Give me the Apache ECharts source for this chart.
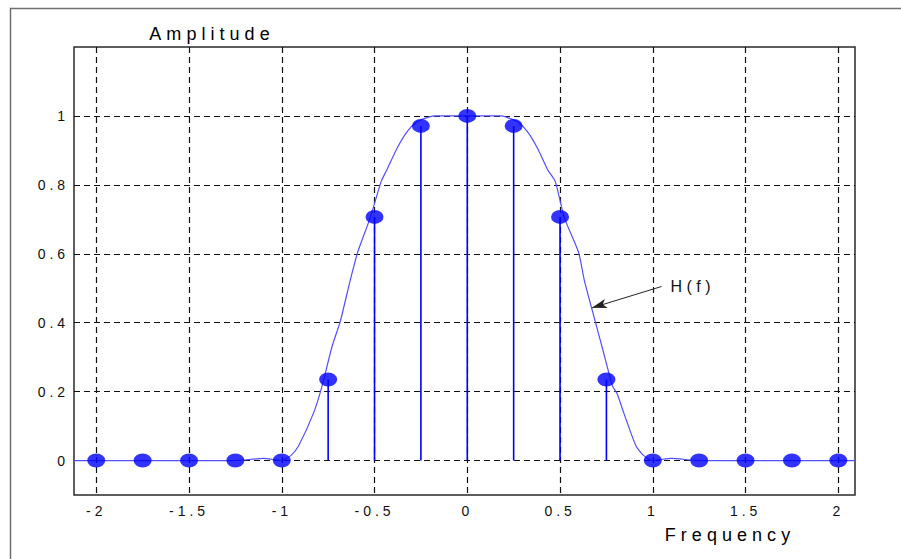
<!DOCTYPE html>
<html>
<head>
<meta charset="utf-8">
<script src="https://cdn.jsdelivr.net/npm/echarts@6/dist/echarts.min.js"></script>
<style>
  html, body { margin: 0; padding: 0; background: #fff; }
  #chart { width: 901px; height: 559px; }
  #chart svg text { letter-spacing: 0.28em; }
</style>
</head>
<body>
<div id="chart"></div>
<script>
// Sampled spectrum points (frequency, amplitude)
const stemFreq = [-2, -1.75, -1.5, -1.25, -1, -0.75, -0.5, -0.25, 0, 0.25, 0.5, 0.75, 1, 1.25, 1.5, 1.75, 2];
const stemAmp  = [0, 0, 0, 0, 0, 0.235, 0.707, 0.971, 1, 0.971, 0.707, 0.235, 0, 0, 0, 0, 0];

// Continuous H(f) curve
const curveFreq = [-2.12, -1.25, -1.1, -1.0, -0.95, -0.909, -0.828, -0.783, -0.729, -0.685, -0.631, -0.591, -0.523, -0.464, -0.433, -0.38, -0.325, -0.271, -0.217, -0.18, 0,
                   0.187, 0.217, 0.271, 0.325, 0.38, 0.433, 0.474, 0.523, 0.6, 0.631, 0.69, 0.726, 0.783, 0.807, 0.843, 0.909, 0.95, 1.0, 1.1, 1.25, 2.09];
const curveAmp  = [0, 0, 0.006, 0, 0.015, 0.043, 0.139, 0.216, 0.331, 0.403, 0.523, 0.604, 0.705, 0.81, 0.844, 0.905, 0.954, 0.983, 0.995, 1.0, 1.0,
                   1.0, 0.995, 0.983, 0.954, 0.905, 0.844, 0.81, 0.705, 0.604, 0.523, 0.403, 0.331, 0.216, 0.195, 0.139, 0.043, 0.015, 0, 0.006, 0, 0];

const xTicks = [-2, -1.5, -1, -0.5, 0, 0.5, 1, 1.5, 2];
const yTicks = [0, 0.2, 0.4, 0.6, 0.8, 1];

const xTitle = 'Frequency';
const yTitle = 'Amplitude';
const curveLabel = 'H(f)';
const arrowFrom = [1.047, 0.505];
const arrowTo = [0.672, 0.443];
const labelAt = [1.215, 0.505];

const FONT = '"Liberation Sans", Arial, sans-serif';
const chart = echarts.init(document.getElementById('chart'), null, { renderer: 'svg' });

const ellipse = 'path://M0 50A50 50 0 1 0 100 50A50 50 0 1 0 0 50Z';

chart.setOption({
  animation: false,
  backgroundColor: '#fff',
  grid: { left: 74, top: 47, right: 46, bottom: 64, show: true, borderColor: '#2a2a2a', borderWidth: 1.5, backgroundColor: 'transparent' },
  xAxis: {
    type: 'value', min: -2.12, max: 2.09,
    axisLine: { show: false, onZero: false },
    axisTick: { show: false, customValues: xTicks },
    axisLabel: { customValues: xTicks, color: '#111', fontSize: 14, fontFamily: FONT, margin: 9 },
    splitLine: { show: true, lineStyle: { color: '#111', type: [6, 4], width: 1.2 } }
  },
  yAxis: {
    type: 'value', min: -0.1, max: 1.2,
    axisLine: { show: false, onZero: false },
    axisTick: { show: false, customValues: yTicks },
    axisLabel: { customValues: yTicks, color: '#111', fontSize: 14, fontFamily: FONT, margin: 5 },
    splitLine: { show: true, lineStyle: { color: '#111', type: [6, 4], width: 1.2 } }
  },
  graphic: [
    { type: 'rect', left: 8, top: 6, shape: { width: 1000, height: 1000 }, style: { fill: 'none', stroke: '#707070', lineWidth: 1.5 }, z: -10 },
    { type: 'text', x: 212, y: 34, style: { text: yTitle, fontSize: 18, fontFamily: FONT, fill: '#000', align: 'center', verticalAlign: 'middle' } },
    { type: 'text', x: 730, y: 535, style: { text: xTitle, fontSize: 18, fontFamily: FONT, fill: '#000', align: 'center', verticalAlign: 'middle' } }
  ],
  series: [
    {
      type: 'line',
      data: curveFreq.map((f, i) => [f, curveAmp[i]]),
      showSymbol: false,
      smooth: 0.2,
      lineStyle: { color: '#5050ff', width: 1.2 },
      z: 3,
      markLine: {
        silent: true,
        symbol: ['none', 'arrow'],
        symbolSize: [7, 15],
        label: { show: false },
        lineStyle: { color: '#222', width: 1, type: 'solid' },
        data: [[{ coord: arrowFrom }, { coord: arrowTo }]]
      },
      markPoint: {
        symbol: 'circle', symbolSize: 0,
        label: { show: true, position: 'inside', formatter: curveLabel, fontSize: 16, fontFamily: FONT, color: '#111' },
        data: [{ coord: labelAt }]
      }
    },
    {
      type: 'custom',
      data: stemFreq.map((f, i) => [f, stemAmp[i]]),
      renderItem: function (params, api) {
        const p0 = api.coord([api.value(0), 0]);
        const p1 = api.coord([api.value(0), api.value(1)]);
        return { type: 'line', shape: { x1: p0[0], y1: p0[1], x2: p1[0], y2: p1[1] }, style: { stroke: '#0000ff', lineWidth: 1.6 } };
      },
      z: 4
    },
    {
      type: 'scatter',
      data: stemFreq.map((f, i) => [f, stemAmp[i]]),
      symbol: ellipse,
      symbolSize: [18, 14],
      itemStyle: { color: '#0000ff' },
      z: 5
    }
  ]
});
</script>
</body>
</html>
